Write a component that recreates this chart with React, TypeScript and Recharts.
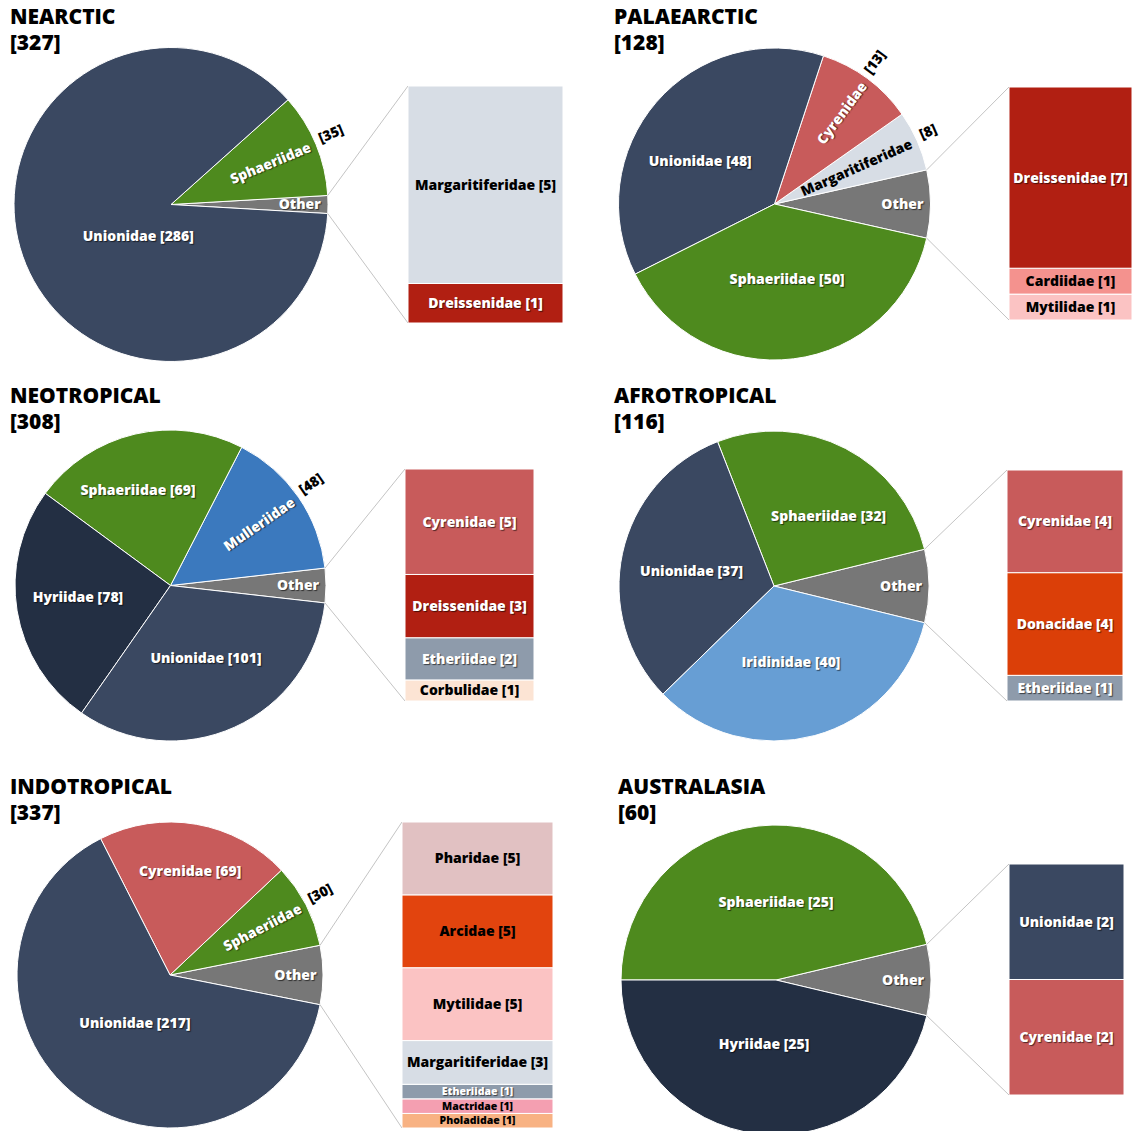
import React from "react";
import { PieChart, Pie, Cell, BarChart, Bar, XAxis, YAxis } from "recharts";

const FONT = "'Open Sans', Lato, sans-serif";

// Regions and their totals (shown in the panel titles)
const regionNames = ["NEARCTIC", "PALAEARCTIC", "NEOTROPICAL", "AFROTROPICAL", "INDOTROPICAL", "AUSTRALASIA"];
const regionTotals = [327, 128, 308, 116, 337, 60];

// Main pie slices, listed counter-clockwise after the "Other" slice
const nearcticFamilies = ["Sphaeriidae", "Unionidae"];
const nearcticCounts = [35, 286];
const palaearcticFamilies = ["Margaritiferidae", "Cyrenidae", "Unionidae", "Sphaeriidae"];
const palaearcticCounts = [8, 13, 48, 50];
const neotropicalFamilies = ["Mulleriidae", "Sphaeriidae", "Hyriidae", "Unionidae"];
const neotropicalCounts = [48, 69, 78, 101];
const afrotropicalFamilies = ["Sphaeriidae", "Unionidae", "Iridinidae"];
const afrotropicalCounts = [32, 37, 40];
const indotropicalFamilies = ["Sphaeriidae", "Cyrenidae", "Unionidae"];
const indotropicalCounts = [30, 69, 217];
const australasiaFamilies = ["Sphaeriidae", "Hyriidae"];
const australasiaCounts = [25, 25];

// Breakdown of "Other", top to bottom
const nearcticOther = ["Margaritiferidae", "Dreissenidae"];
const nearcticOtherCounts = [5, 1];
const palaearcticOther = ["Dreissenidae", "Cardiidae", "Mytilidae"];
const palaearcticOtherCounts = [7, 1, 1];
const neotropicalOther = ["Cyrenidae", "Dreissenidae", "Etheriidae", "Corbulidae"];
const neotropicalOtherCounts = [5, 3, 2, 1];
const afrotropicalOther = ["Cyrenidae", "Donacidae", "Etheriidae"];
const afrotropicalOtherCounts = [4, 4, 1];
const indotropicalOther = ["Pharidae", "Arcidae", "Mytilidae", "Margaritiferidae", "Etheriidae", "Mactridae", "Pholadidae"];
const indotropicalOtherCounts = [5, 5, 5, 3, 1, 1, 1];
const australasiaOther = ["Unionidae", "Cyrenidae"];
const australasiaOtherCounts = [2, 2];

const familyColors: Record<string, string> = {
  Unionidae: "#3a4861",
  Hyriidae: "#232f43",
  Sphaeriidae: "#4e8a1e",
  Other: "#777777",
  Mulleriidae: "#3b79be",
  Iridinidae: "#679ed4",
  Cyrenidae: "#c85b5b",
  Margaritiferidae: "#d7dde5",
  Dreissenidae: "#b11f12",
  Cardiidae: "#f4928e",
  Mytilidae: "#fbc3c3",
  Etheriidae: "#8e9bab",
  Corbulidae: "#fce4d4",
  Donacidae: "#db3f08",
  Pharidae: "#e1c1c2",
  Arcidae: "#e2440e",
  Mactridae: "#f49fb1",
  Pholadidae: "#f8b283",
};

const darkText = new Set(["Margaritiferidae", "Cardiidae", "Mytilidae", "Corbulidae", "Pharidae", "Arcidae", "Mactridae", "Pholadidae"]);

const SHADOW = "1px 1px 1px rgba(0,0,0,0.6)";
const LABEL_STYLE = { fontFamily: FONT, fontWeight: 800, fontSize: 14 };

type LabelSpec = { radial?: boolean; a?: number; r?: number };

interface Layout {
  left: number;
  top: number;
  cx: number;
  cy: number;
  r: number;
  bar: { x: number; y: number; w: number; h: number };
  labels: Record<string, LabelSpec>;
}

const layouts: Layout[] = [
  {
    left: 0, top: 0, cx: 171, cy: 204.5, r: 157,
    bar: { x: 408, y: 86, w: 155, h: 237 },
    labels: { Sphaeriidae: { radial: true }, Unionidae: { a: 224, r: 0.29 } },
  },
  {
    left: 604, top: 0, cx: 170.5, cy: 204, r: 156,
    bar: { x: 405, y: 87, w: 123, h: 233 },
    labels: {
      Margaritiferidae: { radial: true },
      Cyrenidae: { radial: true },
      Unionidae: { a: 150, r: 0.55 },
      Sphaeriidae: { a: -80.5, r: 0.49 },
    },
  },
  {
    left: 0, top: 379, cx: 170.5, cy: 206.5, r: 155.5,
    bar: { x: 405, y: 90, w: 129, h: 232 },
    labels: {
      Mulleriidae: { radial: true },
      Sphaeriidae: { a: 108.8, r: 0.65 },
      Hyriidae: { a: 187, r: 0.6 },
      Unionidae: { a: -64, r: 0.52 },
    },
  },
  {
    left: 604, top: 379, cx: 170, cy: 207, r: 155,
    bar: { x: 403, y: 91, w: 116, h: 231 },
    labels: {
      Sphaeriidae: { a: 51.8, r: 0.57 },
      Unionidae: { a: 170, r: 0.54 },
      Iridinidae: { a: -77.4, r: 0.5 },
    },
  },
  {
    left: 0, top: 770, cx: 170, cy: 205, r: 153,
    bar: { x: 402, y: 52, w: 151, h: 306 },
    labels: {
      Sphaeriidae: { radial: true },
      Cyrenidae: { a: 79, r: 0.69 },
      Unionidae: { a: 234, r: 0.39 },
    },
  },
  {
    left: 608, top: 770, cx: 168, cy: 210, r: 155,
    bar: { x: 401, y: 94, w: 115, h: 231 },
    labels: { Sphaeriidae: { a: 90, r: 0.5 }, Hyriidae: { a: -100.6, r: 0.42 } },
  },
];

const mainFamilies = [nearcticFamilies, palaearcticFamilies, neotropicalFamilies, afrotropicalFamilies, indotropicalFamilies, australasiaFamilies];
const mainCounts = [nearcticCounts, palaearcticCounts, neotropicalCounts, afrotropicalCounts, indotropicalCounts, australasiaCounts];
const otherFamilies = [nearcticOther, palaearcticOther, neotropicalOther, afrotropicalOther, indotropicalOther, australasiaOther];
const otherCounts = [nearcticOtherCounts, palaearcticOtherCounts, neotropicalOtherCounts, afrotropicalOtherCounts, indotropicalOtherCounts, australasiaOtherCounts];

const RAD = Math.PI / 180;
const PANEL_W = 566;
const PANEL_H = 400;

function RegionPanel({ idx }: { idx: number }) {
  const layout = layouts[idx];
  const otherSum = otherCounts[idx].reduce((a, b) => a + b, 0);
  const slices = [
    { name: "Other", value: otherSum },
    ...mainFamilies[idx].map((n, i) => ({ name: n, value: mainCounts[idx][i] })),
  ];
  const sum = slices.reduce((a, s) => a + s.value, 0);
  const half = (otherSum / sum) * 180;
  const barRow: Record<string, number | string> = { name: "Other" };
  otherFamilies[idx].forEach((n, i) => (barRow[n] = otherCounts[idx][i]));
  const { bar } = layout;

  const renderLabel = (p: any) => {
    const name: string = p.name ?? p.payload?.name;
    const value: number = p.value ?? p.payload?.value;
    const cx: number = p.cx;
    const cy: number = p.cy;
    const R: number = p.outerRadius;
    const mid: number = p.midAngle;

    if (name === "Other") {
      // leader lines from the slice edges to the breakdown bar corners
      const ex = cx + R * Math.cos(half * RAD);
      const ey = R * Math.sin(half * RAD);
      return (
        <g>
          <line x1={ex} y1={cy - ey} x2={bar.x} y2={bar.y} stroke="#c4c4c4" strokeWidth={1} />
          <line x1={ex} y1={cy + ey} x2={bar.x} y2={bar.y + bar.h} stroke="#c4c4c4" strokeWidth={1} />
          <text x={cx + R * 0.82} y={cy} dy="0.35em" textAnchor="middle" fill="#fff" style={{ ...LABEL_STYLE, textShadow: SHADOW }}>
            Other
          </text>
        </g>
      );
    }

    const spec = layout.labels[name] ?? {};
    const dark = darkText.has(name);
    if (spec.radial) {
      return (
        <g transform={`translate(${cx},${cy}) rotate(${-mid})`}>
          <text x={R * 0.96} y={0} dy="0.35em" textAnchor="end" fill={dark ? "#000" : "#fff"}
            style={{ ...LABEL_STYLE, textShadow: dark ? "none" : SHADOW }}>
            {name}
          </text>
          <text x={R + 5} y={-4} dy="0.35em" textAnchor="start" fill="#000" style={LABEL_STYLE}>
            [{value}]
          </text>
        </g>
      );
    }
    const a = (spec.a ?? mid) * RAD;
    const rr = (spec.r ?? 0.6) * R;
    return (
      <text x={cx + rr * Math.cos(a)} y={cy - rr * Math.sin(a)} dy="0.35em" textAnchor="middle"
        fill={dark ? "#000" : "#fff"} style={{ ...LABEL_STYLE, textShadow: dark ? "none" : SHADOW }}>
        {name} [{value}]
      </text>
    );
  };

  const stacked = otherFamilies[idx].map((n, i) => ({ name: n, value: otherCounts[idx][i] })).reverse();

  return (
    <div style={{ position: "absolute", left: layout.left, top: layout.top, width: PANEL_W, height: PANEL_H }}>
      <PieChart width={PANEL_W} height={PANEL_H} margin={{ top: 0, right: 0, bottom: 0, left: 0 }}>
        <Pie
          data={slices}
          dataKey="value"
          nameKey="name"
          cx={layout.cx}
          cy={layout.cy}
          outerRadius={layout.r}
          startAngle={-half}
          endAngle={360 - half}
          stroke="#ffffff"
          strokeWidth={1}
          label={renderLabel}
          labelLine={false}
          isAnimationActive={false}
        >
          {slices.map((s) => (
            <Cell key={s.name} fill={familyColors[s.name]} />
          ))}
        </Pie>
      </PieChart>
      <div style={{ position: "absolute", left: 10, top: 3, fontFamily: FONT, fontWeight: 800, fontSize: 21, lineHeight: "26px", color: "#000" }}>
        <div>{regionNames[idx]}</div>
        <div>[{regionTotals[idx]}]</div>
      </div>
      <div style={{ position: "absolute", left: bar.x, top: bar.y }}>
        <BarChart width={bar.w} height={bar.h} data={[barRow]} margin={{ top: 0, right: 0, bottom: 0, left: 0 }} barCategoryGap={0} barGap={0}>
          <XAxis dataKey="name" hide />
          <YAxis hide domain={[0, otherSum]} allowDataOverflow />
          {stacked.map((s) => (
            <Bar
              key={s.name}
              dataKey={s.name}
              stackId="other"
              fill={familyColors[s.name]}
              stroke="#ffffff"
              strokeWidth={1}
              isAnimationActive={false}
              label={(lp: any) => {
                const dark = darkText.has(s.name);
                // thin segments get a smaller label so neighbours don't collide
                const size = lp.height < 18 ? 10.5 : 14;
                return (
                  <text
                    x={lp.x + lp.width / 2}
                    y={lp.y + lp.height / 2}
                    dy="0.35em"
                    textAnchor="middle"
                    fill={dark ? "#000" : "#fff"}
                    style={{ ...LABEL_STYLE, fontSize: size, textShadow: dark ? "none" : SHADOW }}
                  >
                    {s.name} [{s.value}]
                  </text>
                );
              }}
            />
          ))}
        </BarChart>
      </div>
    </div>
  );
}

export default function App() {
  return (
    <div style={{ position: "absolute", left: 0, top: 0, width: 1132, height: 1131, overflow: "hidden", background: "#fff" }}>
      {regionNames.map((_, i) => (
        <RegionPanel key={i} idx={i} />
      ))}
    </div>
  );
}
